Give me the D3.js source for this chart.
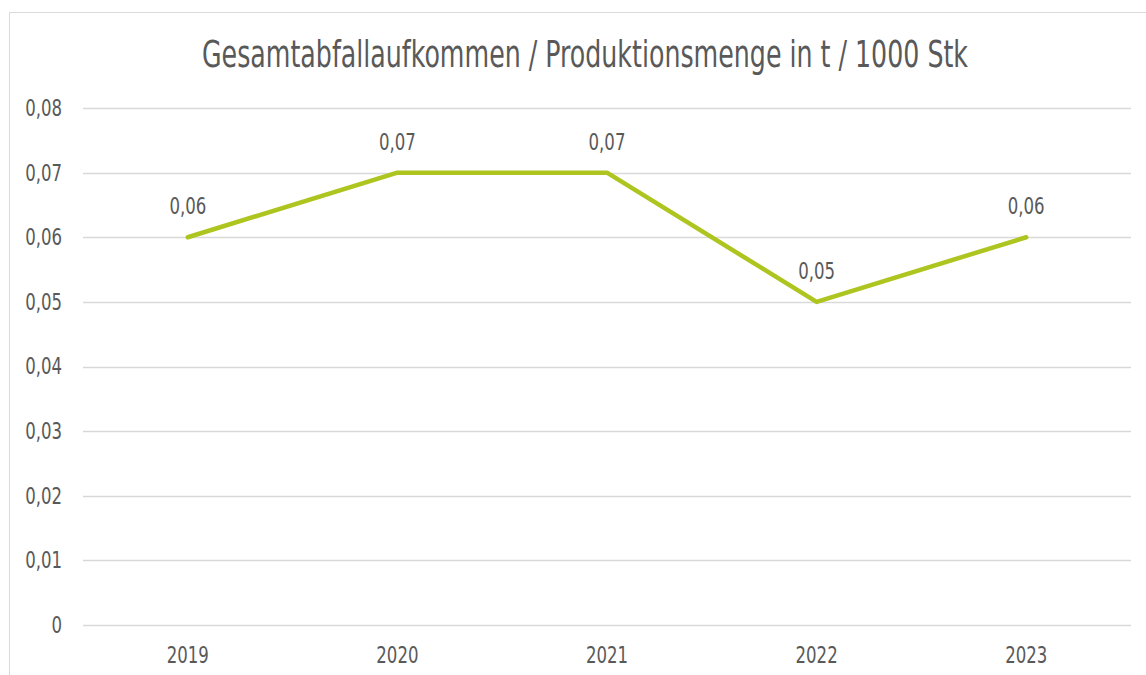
<!DOCTYPE html>
<html lang="de">
<head>
<meta charset="UTF-8">
<title>Gesamtabfallaufkommen / Produktionsmenge</title>
<style>
    body { margin: 0; padding: 0; background: #fff; }
    svg { display: block; }
    text { font-family: "DejaVu Sans Condensed", "DejaVu Sans", sans-serif; fill: #595959; }
</style>
</head>
<body>
<div id="chart"></div>
<script src="https://cdnjs.cloudflare.com/ajax/libs/d3/7.8.5/d3.min.js"></script>
<script>
const years = ["2019", "2020", "2021", "2022", "2023"];
const values = [0.06, 0.07, 0.07, 0.05, 0.06];
const yTicks = [0, 0.01, 0.02, 0.03, 0.04, 0.05, 0.06, 0.07, 0.08];
const title = "Gesamtabfallaufkommen / Produktionsmenge in t / 1000 Stk";

const width = 1146, height = 675;
const margin = { top: 108, right: 15, bottom: 50, left: 83 };

const svg = d3.select("#chart").append("svg")
    .attr("width", width)
    .attr("height", height);

// narrow tall look of the original font
function squeeze(sel, k) {
    sel.each(function() {
        const len = this.getComputedTextLength();
        d3.select(this).attr("textLength", len * k).attr("lengthAdjust", "spacingAndGlyphs");
    });
}

// chart frame (only left and top visible in the crop)
svg.append("path")
    .attr("d", `M9.5,${height} V12.5 H${width}`)
    .attr("fill", "none")
    .attr("stroke", "#d9d9d9")
    .attr("stroke-width", 1);

const x = d3.scaleBand()
    .domain(years)
    .range([margin.left, width - margin.right]);

const y = d3.scaleLinear()
    .domain([0, 0.08])
    .range([height - margin.bottom, margin.top]);

const fmt = v => v === 0 ? "0" : d3.format(".2f")(v).replace(".", ",");

// gridlines
svg.append("g")
    .selectAll("line")
    .data(yTicks)
    .join("line")
    .attr("x1", margin.left)
    .attr("x2", width - margin.right)
    .attr("y1", d => Math.round(y(d)) + 0.5)
    .attr("y2", d => Math.round(y(d)) + 0.5)
    .attr("stroke", "#d9d9d9")
    .attr("stroke-width", 1.5);

// y axis labels
const yAxis = d3.axisLeft(y).tickValues(yTicks).tickFormat(fmt).tickSize(0).tickPadding(21);
svg.append("g")
    .attr("transform", `translate(${margin.left},0)`)
    .call(yAxis)
    .call(g => g.select(".domain").remove())
    .selectAll("text")
    .style("font-size", "23px")
    .attr("fill", "#595959")
    .call(squeeze, 0.8);

// x axis labels
const xAxis = d3.axisBottom(x).tickSize(0).tickPadding(22);
svg.append("g")
    .attr("transform", `translate(0,${height - margin.bottom})`)
    .call(xAxis)
    .call(g => g.select(".domain").remove())
    .selectAll("text")
    .style("font-size", "23px")
    .attr("fill", "#595959")
    .call(squeeze, 0.8);

// line
const line = d3.line()
    .x((d, i) => x(years[i]) + x.bandwidth() / 2)
    .y(d => y(d));

svg.append("path")
    .datum(values)
    .attr("d", line)
    .attr("fill", "none")
    .attr("stroke", "#aec520")
    .attr("stroke-width", 4.5)
    .attr("stroke-linejoin", "round")
    .attr("stroke-linecap", "round");

// data labels
svg.append("g")
    .selectAll("text")
    .data(values)
    .join("text")
    .attr("x", (d, i) => x(years[i]) + x.bandwidth() / 2)
    .attr("y", d => y(d) - 23)
    .attr("text-anchor", "middle")
    .style("font-size", "23px")
    .text(fmt)
    .call(squeeze, 0.8);

// title, compressed horizontally by a transform
svg.append("text")
    .attr("transform", "translate(585,67) scale(0.74,1)")
    .attr("text-anchor", "middle")
    .style("font-size", "38px")
    .text(title);
</script>
</body>
</html>
